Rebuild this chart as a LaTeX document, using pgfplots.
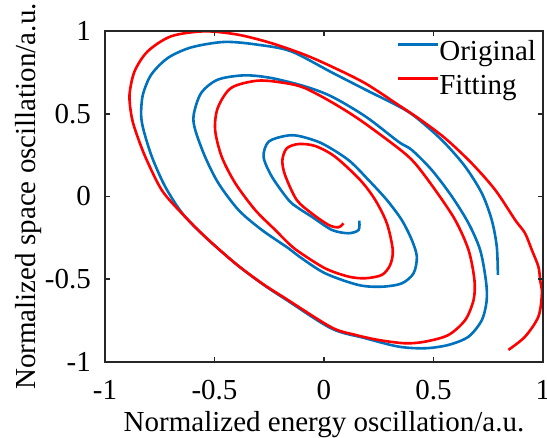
\documentclass[border=0pt]{standalone}
\usepackage{fontspec}
\setmainfont{Liberation Serif}
\usepackage{pgfplots}
\pgfplotsset{compat=1.18}
\definecolor{mblue}{RGB}{0,114,189}
\definecolor{axgray}{RGB}{38,38,38}
\begin{document}
\begin{tikzpicture}[font=\fontsize{29}{34}\selectfont]
\begin{axis}[
  name=ax,
  scale only axis, width=438pt, height=331pt,
  xmin=-1, xmax=1, ymin=-1, ymax=1,
  xtick={-1,-0.5,0,0.5,1}, ytick={-1,-0.5,0,0.5,1},
  xticklabels={-1,-0.5,0,0.5,1}, yticklabels={-1,-0.5,0,0.5,1},
  tick align=inside, major tick length=5pt,
  axis line style={draw=axgray, line width=1.6pt},
  tick style={draw=axgray, line width=1.6pt},
  xticklabel style={anchor=base, yshift=-37.8pt, inner sep=0pt},
  yticklabel style={anchor=east, xshift=-14pt, inner sep=0pt},
  every axis x label/.style={at={(axis description cs:0.5,-0.2085)}, anchor=base},
  every axis y label/.style={at={(axis description cs:-0.1598,0.5)}, anchor=base, rotate=90},
  xlabel={Normalized energy oscillation/a.u.},
  ylabel={Normalized space oscillation/a.u.},
  legend style={draw=none, fill=none, at={(rel axis cs:1,1)}, anchor=north east,
    xshift=-7pt, yshift=-8.8pt, inner sep=0pt, outer sep=0pt, row sep=6pt,
    nodes={inner sep=0pt, text height=21pt, text depth=7pt}},
  legend cell align=left,
  /tikz/every even column/.append style={column sep=3pt},
  legend image code/.code={\draw[#1] (0pt,9pt) -- (40pt,9pt);},
]
\addplot[mblue, line width=2.6pt, smooth] coordinates {
(0.794,-0.474) (0.789,-0.303) (0.766,-0.142) (0.721,0.019) (0.645,0.18)
(0.553,0.321) (0.462,0.432) (0.371,0.523) (0.19,0.645) (0.035,0.75)
(-0.15,0.877) (-0.302,0.917) (-0.454,0.934) (-0.606,0.901) (-0.713,0.837)
(-0.789,0.736) (-0.827,0.615) (-0.835,0.494) (-0.824,0.402) (-0.786,0.24)
(-0.725,0.059) (-0.645,-0.105) (-0.538,-0.25) (-0.4,-0.41) (-0.28,-0.53)
(-0.177,-0.62) (0.033,-0.797) (0.185,-0.855) (0.34,-0.907) (0.462,-0.917)
(0.568,-0.897) (0.66,-0.847) (0.721,-0.746) (0.743,-0.625) (0.739,-0.505)
(0.713,-0.323) (0.66,-0.162) (0.584,0) (0.492,0.16) (0.401,0.281)
(0.34,0.331) (0.19,0.483) (0.035,0.604) (-0.089,0.666) (-0.241,0.716)
(-0.363,0.732) (-0.485,0.706) (-0.561,0.625) (-0.595,0.494) (-0.588,0.402)
(-0.543,0.24) (-0.482,0.08) (-0.39,-0.082) (-0.284,-0.202) (-0.162,-0.313)
(-0.116,-0.36) (0.005,-0.464) (0.158,-0.535) (0.264,-0.545) (0.355,-0.525)
(0.409,-0.464) (0.424,-0.364) (0.401,-0.263) (0.355,-0.142) (0.287,-0.021)
(0.203,0.1) (0.112,0.22) (-0.01,0.321) (-0.116,0.366) (-0.177,0.366)
(-0.253,0.331) (-0.276,0.24) (-0.238,0.12) (-0.162,-0.021) (-0.116,-0.071)
(-0.056,-0.122) (0.036,-0.202) (0.112,-0.222) (0.158,-0.202) (0.161,-0.146)
};
\addlegendentry{Original}
\addplot[red, line width=2.6pt, smooth] coordinates {
(0.842,-0.927) (0.918,-0.847) (0.979,-0.726) (0.995,-0.585) (0.987,-0.505)
(0.979,-0.424) (0.949,-0.323) (0.918,-0.222) (0.873,-0.142) (0.782,0.039)
(0.675,0.2) (0.553,0.352) (0.432,0.472) (0.34,0.553) (0.187,0.685)
(0.035,0.785) (-0.089,0.857) (-0.241,0.927) (-0.394,0.978) (-0.546,0.998)
(-0.698,0.968) (-0.805,0.877) (-0.865,0.756) (-0.888,0.615) (-0.88,0.494)
(-0.862,0.402) (-0.816,0.24) (-0.741,0.039) (-0.649,-0.102) (-0.543,-0.243)
(-0.405,-0.404) (-0.284,-0.524) (-0.177,-0.615) (0.033,-0.79) (0.14,-0.835)
(0.249,-0.867) (0.371,-0.887) (0.462,-0.877) (0.568,-0.837) (0.645,-0.746)
(0.683,-0.625) (0.687,-0.505) (0.66,-0.323) (0.599,-0.142) (0.508,0.039)
(0.416,0.2) (0.34,0.291) (0.165,0.462) (0.035,0.57) (-0.089,0.656)
(-0.18,0.686) (-0.302,0.7) (-0.424,0.656) (-0.485,0.535) (-0.497,0.402)
(-0.467,0.24) (-0.405,0.08) (-0.314,-0.082) (-0.223,-0.202) (-0.162,-0.283)
(-0.116,-0.333) (0.005,-0.434) (0.112,-0.484) (0.188,-0.494) (0.264,-0.474)
(0.302,-0.414) (0.314,-0.323) (0.287,-0.162) (0.234,-0.021) (0.165,0.1)
(0.051,0.24) (-0.04,0.305) (-0.116,0.317) (-0.17,0.291) (-0.19,0.22)
(-0.178,0.13) (-0.125,-0.02) (-0.056,-0.102) (0.021,-0.172) (0.066,-0.186)
(0.089,-0.162)
};
\addlegendentry{Fitting}
% tick marks as thin filled bars
\fill[axgray] ([xshift=-0.8pt]axis cs:-0.5,-1) rectangle ([xshift=0.8pt,yshift=5pt]axis cs:-0.5,-1);
\fill[axgray] ([xshift=-0.8pt]axis cs:0,-1) rectangle ([xshift=0.8pt,yshift=5pt]axis cs:0,-1);
\fill[axgray] ([xshift=-0.8pt]axis cs:0.5,-1) rectangle ([xshift=0.8pt,yshift=5pt]axis cs:0.5,-1);
\fill[axgray] ([xshift=-0.8pt]axis cs:-0.5,1) rectangle ([xshift=0.8pt,yshift=-5pt]axis cs:-0.5,1);
\fill[axgray] ([xshift=-0.8pt]axis cs:0,1) rectangle ([xshift=0.8pt,yshift=-5pt]axis cs:0,1);
\fill[axgray] ([xshift=-0.8pt]axis cs:0.5,1) rectangle ([xshift=0.8pt,yshift=-5pt]axis cs:0.5,1);
\fill[axgray] ([yshift=-0.8pt]axis cs:-1,-0.5) rectangle ([yshift=0.8pt,xshift=5pt]axis cs:-1,-0.5);
\fill[axgray] ([yshift=-0.8pt]axis cs:-1,0) rectangle ([yshift=0.8pt,xshift=5pt]axis cs:-1,0);
\fill[axgray] ([yshift=-0.8pt]axis cs:-1,0.5) rectangle ([yshift=0.8pt,xshift=5pt]axis cs:-1,0.5);
\fill[axgray] ([yshift=-0.8pt]axis cs:1,-0.5) rectangle ([yshift=0.8pt,xshift=-5pt]axis cs:1,-0.5);
\fill[axgray] ([yshift=-0.8pt]axis cs:1,0) rectangle ([yshift=0.8pt,xshift=-5pt]axis cs:1,0);
\fill[axgray] ([yshift=-0.8pt]axis cs:1,0.5) rectangle ([yshift=0.8pt,xshift=-5pt]axis cs:1,0.5);
\end{axis}
% frame as a filled ring
\fill[axgray, even odd rule]
  ([xshift=-0.9pt,yshift=-0.9pt]ax.south west) rectangle ([xshift=0.9pt,yshift=0.9pt]ax.north east)
  ([xshift=0.9pt,yshift=0.9pt]ax.south west) rectangle ([xshift=-0.9pt,yshift=-0.9pt]ax.north east);
\pgfresetboundingbox
\path[use as bounding box] (-105pt,-76pt) rectangle (442pt,362pt);
\end{tikzpicture}
\end{document}
